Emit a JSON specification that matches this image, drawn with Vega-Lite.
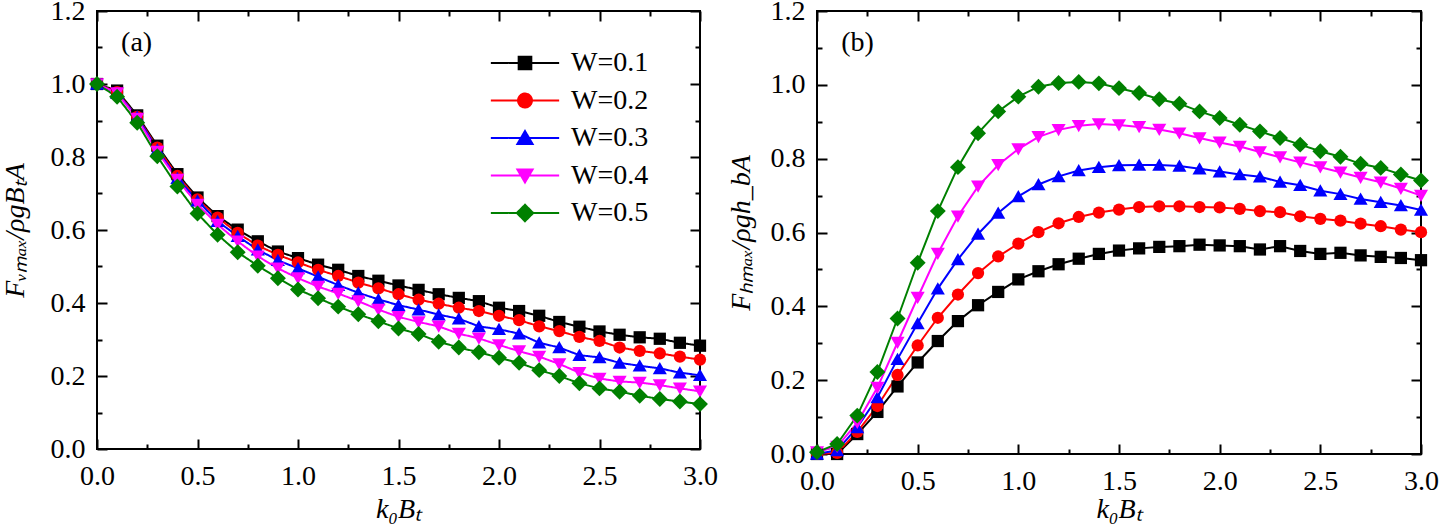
{
  "$schema": "https://vega.github.io/schema/vega-lite/v6.json",
  "background": "white",
  "padding": {"left": 0, "top": -4, "right": 0, "bottom": 0},
  "config": {
    "font": "Liberation Serif",
    "view": {"stroke": "black", "strokeWidth": 2},
    "axis": {
      "domain": false, "grid": false, "labelFlush": false, "labelOverlap": false,
      "tickColor": "black", "tickWidth": 2,
      "labelFont": "Liberation Serif", "labelFontSize": 28, "labelColor": "black",
      "titleFont": "Liberation Serif", "titleFontSize": 28, "titleFontStyle": "italic", "titleFontWeight": "normal", "titleColor": "black"
    }
  },
  "datasets": {
    "a": [
      {"k":0,"W":"W=0.1","v":1.0},{"k":0.1,"W":"W=0.1","v":0.982},{"k":0.2,"W":"W=0.1","v":0.914},{"k":0.3,"W":"W=0.1","v":0.831},{"k":0.4,"W":"W=0.1","v":0.753},{"k":0.5,"W":"W=0.1","v":0.689},{"k":0.6,"W":"W=0.1","v":0.638},{"k":0.7,"W":"W=0.1","v":0.601},{"k":0.8,"W":"W=0.1","v":0.569},{"k":0.9,"W":"W=0.1","v":0.541},{"k":1.0,"W":"W=0.1","v":0.523},{"k":1.1,"W":"W=0.1","v":0.505},{"k":1.2,"W":"W=0.1","v":0.491},{"k":1.3,"W":"W=0.1","v":0.474},{"k":1.4,"W":"W=0.1","v":0.461},{"k":1.5,"W":"W=0.1","v":0.448},{"k":1.6,"W":"W=0.1","v":0.436},{"k":1.7,"W":"W=0.1","v":0.424},{"k":1.8,"W":"W=0.1","v":0.414},{"k":1.9,"W":"W=0.1","v":0.405},{"k":2.0,"W":"W=0.1","v":0.387},{"k":2.1,"W":"W=0.1","v":0.378},{"k":2.2,"W":"W=0.1","v":0.365},{"k":2.3,"W":"W=0.1","v":0.348},{"k":2.4,"W":"W=0.1","v":0.335},{"k":2.5,"W":"W=0.1","v":0.322},{"k":2.6,"W":"W=0.1","v":0.313},{"k":2.7,"W":"W=0.1","v":0.306},{"k":2.8,"W":"W=0.1","v":0.302},{"k":2.9,"W":"W=0.1","v":0.291},{"k":3.0,"W":"W=0.1","v":0.283},
      {"k":0,"W":"W=0.2","v":1.0},{"k":0.1,"W":"W=0.2","v":0.978},{"k":0.2,"W":"W=0.2","v":0.91},{"k":0.3,"W":"W=0.2","v":0.826},{"k":0.4,"W":"W=0.2","v":0.748},{"k":0.5,"W":"W=0.2","v":0.684},{"k":0.6,"W":"W=0.2","v":0.634},{"k":0.7,"W":"W=0.2","v":0.592},{"k":0.8,"W":"W=0.2","v":0.557},{"k":0.9,"W":"W=0.2","v":0.532},{"k":1.0,"W":"W=0.2","v":0.511},{"k":1.1,"W":"W=0.2","v":0.491},{"k":1.2,"W":"W=0.2","v":0.474},{"k":1.3,"W":"W=0.2","v":0.456},{"k":1.4,"W":"W=0.2","v":0.44},{"k":1.5,"W":"W=0.2","v":0.424},{"k":1.6,"W":"W=0.2","v":0.409},{"k":1.7,"W":"W=0.2","v":0.398},{"k":1.8,"W":"W=0.2","v":0.387},{"k":1.9,"W":"W=0.2","v":0.378},{"k":2.0,"W":"W=0.2","v":0.365},{"k":2.1,"W":"W=0.2","v":0.353},{"k":2.2,"W":"W=0.2","v":0.336},{"k":2.3,"W":"W=0.2","v":0.323},{"k":2.4,"W":"W=0.2","v":0.307},{"k":2.5,"W":"W=0.2","v":0.296},{"k":2.6,"W":"W=0.2","v":0.278},{"k":2.7,"W":"W=0.2","v":0.269},{"k":2.8,"W":"W=0.2","v":0.262},{"k":2.9,"W":"W=0.2","v":0.253},{"k":3.0,"W":"W=0.2","v":0.245},
      {"k":0,"W":"W=0.3","v":1.0},{"k":0.1,"W":"W=0.3","v":0.975},{"k":0.2,"W":"W=0.3","v":0.91},{"k":0.3,"W":"W=0.3","v":0.82},{"k":0.4,"W":"W=0.3","v":0.742},{"k":0.5,"W":"W=0.3","v":0.68},{"k":0.6,"W":"W=0.3","v":0.624},{"k":0.7,"W":"W=0.3","v":0.583},{"k":0.8,"W":"W=0.3","v":0.546},{"k":0.9,"W":"W=0.3","v":0.517},{"k":1.0,"W":"W=0.3","v":0.495},{"k":1.1,"W":"W=0.3","v":0.472},{"k":1.2,"W":"W=0.3","v":0.449},{"k":1.3,"W":"W=0.3","v":0.428},{"k":1.4,"W":"W=0.3","v":0.41},{"k":1.5,"W":"W=0.3","v":0.394},{"k":1.6,"W":"W=0.3","v":0.382},{"k":1.7,"W":"W=0.3","v":0.368},{"k":1.8,"W":"W=0.3","v":0.357},{"k":1.9,"W":"W=0.3","v":0.336},{"k":2.0,"W":"W=0.3","v":0.328},{"k":2.1,"W":"W=0.3","v":0.316},{"k":2.2,"W":"W=0.3","v":0.291},{"k":2.3,"W":"W=0.3","v":0.278},{"k":2.4,"W":"W=0.3","v":0.257},{"k":2.5,"W":"W=0.3","v":0.251},{"k":2.6,"W":"W=0.3","v":0.236},{"k":2.7,"W":"W=0.3","v":0.228},{"k":2.8,"W":"W=0.3","v":0.221},{"k":2.9,"W":"W=0.3","v":0.209},{"k":3.0,"W":"W=0.3","v":0.202},
      {"k":0,"W":"W=0.4","v":1.0},{"k":0.1,"W":"W=0.4","v":0.975},{"k":0.2,"W":"W=0.4","v":0.905},{"k":0.3,"W":"W=0.4","v":0.815},{"k":0.4,"W":"W=0.4","v":0.738},{"k":0.5,"W":"W=0.4","v":0.67},{"k":0.6,"W":"W=0.4","v":0.615},{"k":0.7,"W":"W=0.4","v":0.569},{"k":0.8,"W":"W=0.4","v":0.528},{"k":0.9,"W":"W=0.4","v":0.495},{"k":1.0,"W":"W=0.4","v":0.468},{"k":1.1,"W":"W=0.4","v":0.445},{"k":1.2,"W":"W=0.4","v":0.426},{"k":1.3,"W":"W=0.4","v":0.405},{"k":1.4,"W":"W=0.4","v":0.382},{"k":1.5,"W":"W=0.4","v":0.362},{"k":1.6,"W":"W=0.4","v":0.348},{"k":1.7,"W":"W=0.4","v":0.336},{"k":1.8,"W":"W=0.4","v":0.316},{"k":1.9,"W":"W=0.4","v":0.303},{"k":2.0,"W":"W=0.4","v":0.285},{"k":2.1,"W":"W=0.4","v":0.268},{"k":2.2,"W":"W=0.4","v":0.253},{"k":2.3,"W":"W=0.4","v":0.233},{"k":2.4,"W":"W=0.4","v":0.209},{"k":2.5,"W":"W=0.4","v":0.193},{"k":2.6,"W":"W=0.4","v":0.185},{"k":2.7,"W":"W=0.4","v":0.182},{"k":2.8,"W":"W=0.4","v":0.175},{"k":2.9,"W":"W=0.4","v":0.166},{"k":3.0,"W":"W=0.4","v":0.158},
      {"k":0,"W":"W=0.5","v":1.0},{"k":0.1,"W":"W=0.5","v":0.965},{"k":0.2,"W":"W=0.5","v":0.894},{"k":0.3,"W":"W=0.5","v":0.802},{"k":0.4,"W":"W=0.5","v":0.719},{"k":0.5,"W":"W=0.5","v":0.645},{"k":0.6,"W":"W=0.5","v":0.587},{"k":0.7,"W":"W=0.5","v":0.539},{"k":0.8,"W":"W=0.5","v":0.502},{"k":0.9,"W":"W=0.5","v":0.468},{"k":1.0,"W":"W=0.5","v":0.437},{"k":1.1,"W":"W=0.5","v":0.413},{"k":1.2,"W":"W=0.5","v":0.39},{"k":1.3,"W":"W=0.5","v":0.369},{"k":1.4,"W":"W=0.5","v":0.35},{"k":1.5,"W":"W=0.5","v":0.33},{"k":1.6,"W":"W=0.5","v":0.315},{"k":1.7,"W":"W=0.5","v":0.294},{"k":1.8,"W":"W=0.5","v":0.278},{"k":1.9,"W":"W=0.5","v":0.265},{"k":2.0,"W":"W=0.5","v":0.25},{"k":2.1,"W":"W=0.5","v":0.236},{"k":2.2,"W":"W=0.5","v":0.216},{"k":2.3,"W":"W=0.5","v":0.2},{"k":2.4,"W":"W=0.5","v":0.18},{"k":2.5,"W":"W=0.5","v":0.166},{"k":2.6,"W":"W=0.5","v":0.157},{"k":2.7,"W":"W=0.5","v":0.146},{"k":2.8,"W":"W=0.5","v":0.137},{"k":2.9,"W":"W=0.5","v":0.13},{"k":3.0,"W":"W=0.5","v":0.123}
    ],
    "b": [
      {"k":0,"W":"W=0.1","v":0},{"k":0.1,"W":"W=0.1","v":0},{"k":0.2,"W":"W=0.1","v":0.054},{"k":0.3,"W":"W=0.1","v":0.114},{"k":0.4,"W":"W=0.1","v":0.183},{"k":0.5,"W":"W=0.1","v":0.248},{"k":0.6,"W":"W=0.1","v":0.306},{"k":0.7,"W":"W=0.1","v":0.36},{"k":0.8,"W":"W=0.1","v":0.403},{"k":0.9,"W":"W=0.1","v":0.439},{"k":1.0,"W":"W=0.1","v":0.473},{"k":1.1,"W":"W=0.1","v":0.495},{"k":1.2,"W":"W=0.1","v":0.514},{"k":1.3,"W":"W=0.1","v":0.529},{"k":1.4,"W":"W=0.1","v":0.542},{"k":1.5,"W":"W=0.1","v":0.551},{"k":1.6,"W":"W=0.1","v":0.557},{"k":1.7,"W":"W=0.1","v":0.561},{"k":1.8,"W":"W=0.1","v":0.563},{"k":1.9,"W":"W=0.1","v":0.567},{"k":2.0,"W":"W=0.1","v":0.565},{"k":2.1,"W":"W=0.1","v":0.563},{"k":2.2,"W":"W=0.1","v":0.554},{"k":2.3,"W":"W=0.1","v":0.563},{"k":2.4,"W":"W=0.1","v":0.55},{"k":2.5,"W":"W=0.1","v":0.542},{"k":2.6,"W":"W=0.1","v":0.545},{"k":2.7,"W":"W=0.1","v":0.538},{"k":2.8,"W":"W=0.1","v":0.534},{"k":2.9,"W":"W=0.1","v":0.531},{"k":3.0,"W":"W=0.1","v":0.525},
      {"k":0,"W":"W=0.2","v":0},{"k":0.1,"W":"W=0.2","v":0.003},{"k":0.2,"W":"W=0.2","v":0.06},{"k":0.3,"W":"W=0.2","v":0.13},{"k":0.4,"W":"W=0.2","v":0.214},{"k":0.5,"W":"W=0.2","v":0.294},{"k":0.6,"W":"W=0.2","v":0.369},{"k":0.7,"W":"W=0.2","v":0.432},{"k":0.8,"W":"W=0.2","v":0.49},{"k":0.9,"W":"W=0.2","v":0.535},{"k":1.0,"W":"W=0.2","v":0.57},{"k":1.1,"W":"W=0.2","v":0.601},{"k":1.2,"W":"W=0.2","v":0.625},{"k":1.3,"W":"W=0.2","v":0.642},{"k":1.4,"W":"W=0.2","v":0.654},{"k":1.5,"W":"W=0.2","v":0.662},{"k":1.6,"W":"W=0.2","v":0.669},{"k":1.7,"W":"W=0.2","v":0.671},{"k":1.8,"W":"W=0.2","v":0.671},{"k":1.9,"W":"W=0.2","v":0.669},{"k":2.0,"W":"W=0.2","v":0.668},{"k":2.1,"W":"W=0.2","v":0.664},{"k":2.2,"W":"W=0.2","v":0.658},{"k":2.3,"W":"W=0.2","v":0.655},{"k":2.4,"W":"W=0.2","v":0.644},{"k":2.5,"W":"W=0.2","v":0.637},{"k":2.6,"W":"W=0.2","v":0.632},{"k":2.7,"W":"W=0.2","v":0.624},{"k":2.8,"W":"W=0.2","v":0.617},{"k":2.9,"W":"W=0.2","v":0.608},{"k":3.0,"W":"W=0.2","v":0.601},
      {"k":0,"W":"W=0.3","v":0},{"k":0.1,"W":"W=0.3","v":0.01},{"k":0.2,"W":"W=0.3","v":0.072},{"k":0.3,"W":"W=0.3","v":0.153},{"k":0.4,"W":"W=0.3","v":0.257},{"k":0.5,"W":"W=0.3","v":0.354},{"k":0.6,"W":"W=0.3","v":0.448},{"k":0.7,"W":"W=0.3","v":0.527},{"k":0.8,"W":"W=0.3","v":0.596},{"k":0.9,"W":"W=0.3","v":0.653},{"k":1.0,"W":"W=0.3","v":0.698},{"k":1.1,"W":"W=0.3","v":0.73},{"k":1.2,"W":"W=0.3","v":0.752},{"k":1.3,"W":"W=0.3","v":0.768},{"k":1.4,"W":"W=0.3","v":0.777},{"k":1.5,"W":"W=0.3","v":0.782},{"k":1.6,"W":"W=0.3","v":0.783},{"k":1.7,"W":"W=0.3","v":0.783},{"k":1.8,"W":"W=0.3","v":0.78},{"k":1.9,"W":"W=0.3","v":0.773},{"k":2.0,"W":"W=0.3","v":0.765},{"k":2.1,"W":"W=0.3","v":0.757},{"k":2.2,"W":"W=0.3","v":0.751},{"k":2.3,"W":"W=0.3","v":0.737},{"k":2.4,"W":"W=0.3","v":0.728},{"k":2.5,"W":"W=0.3","v":0.713},{"k":2.6,"W":"W=0.3","v":0.704},{"k":2.7,"W":"W=0.3","v":0.691},{"k":2.8,"W":"W=0.3","v":0.682},{"k":2.9,"W":"W=0.3","v":0.673},{"k":3.0,"W":"W=0.3","v":0.661},
      {"k":0,"W":"W=0.4","v":0.005},{"k":0.1,"W":"W=0.4","v":0.02},{"k":0.2,"W":"W=0.4","v":0.085},{"k":0.3,"W":"W=0.4","v":0.18},{"k":0.4,"W":"W=0.4","v":0.302},{"k":0.5,"W":"W=0.4","v":0.424},{"k":0.6,"W":"W=0.4","v":0.543},{"k":0.7,"W":"W=0.4","v":0.644},{"k":0.8,"W":"W=0.4","v":0.725},{"k":0.9,"W":"W=0.4","v":0.783},{"k":1.0,"W":"W=0.4","v":0.826},{"k":1.1,"W":"W=0.4","v":0.859},{"k":1.2,"W":"W=0.4","v":0.878},{"k":1.3,"W":"W=0.4","v":0.889},{"k":1.4,"W":"W=0.4","v":0.894},{"k":1.5,"W":"W=0.4","v":0.891},{"k":1.6,"W":"W=0.4","v":0.886},{"k":1.7,"W":"W=0.4","v":0.879},{"k":1.8,"W":"W=0.4","v":0.869},{"k":1.9,"W":"W=0.4","v":0.856},{"k":2.0,"W":"W=0.4","v":0.844},{"k":2.1,"W":"W=0.4","v":0.833},{"k":2.2,"W":"W=0.4","v":0.818},{"k":2.3,"W":"W=0.4","v":0.804},{"k":2.4,"W":"W=0.4","v":0.79},{"k":2.5,"W":"W=0.4","v":0.777},{"k":2.6,"W":"W=0.4","v":0.763},{"k":2.7,"W":"W=0.4","v":0.749},{"k":2.8,"W":"W=0.4","v":0.736},{"k":2.9,"W":"W=0.4","v":0.719},{"k":3.0,"W":"W=0.4","v":0.7},
      {"k":0,"W":"W=0.5","v":0.005},{"k":0.1,"W":"W=0.5","v":0.027},{"k":0.2,"W":"W=0.5","v":0.104},{"k":0.3,"W":"W=0.5","v":0.222},{"k":0.4,"W":"W=0.5","v":0.367},{"k":0.5,"W":"W=0.5","v":0.518},{"k":0.6,"W":"W=0.5","v":0.658},{"k":0.7,"W":"W=0.5","v":0.777},{"k":0.8,"W":"W=0.5","v":0.869},{"k":0.9,"W":"W=0.5","v":0.928},{"k":1.0,"W":"W=0.5","v":0.968},{"k":1.1,"W":"W=0.5","v":0.995},{"k":1.2,"W":"W=0.5","v":1.005},{"k":1.3,"W":"W=0.5","v":1.008},{"k":1.4,"W":"W=0.5","v":1.004},{"k":1.5,"W":"W=0.5","v":0.991},{"k":1.6,"W":"W=0.5","v":0.978},{"k":1.7,"W":"W=0.5","v":0.961},{"k":1.8,"W":"W=0.5","v":0.949},{"k":1.9,"W":"W=0.5","v":0.928},{"k":2.0,"W":"W=0.5","v":0.91},{"k":2.1,"W":"W=0.5","v":0.892},{"k":2.2,"W":"W=0.5","v":0.874},{"k":2.3,"W":"W=0.5","v":0.856},{"k":2.4,"W":"W=0.5","v":0.838},{"k":2.5,"W":"W=0.5","v":0.82},{"k":2.6,"W":"W=0.5","v":0.805},{"k":2.7,"W":"W=0.5","v":0.786},{"k":2.8,"W":"W=0.5","v":0.775},{"k":2.9,"W":"W=0.5","v":0.757},{"k":3.0,"W":"W=0.5","v":0.741}
    ]
  },
  "resolve": {
    "scale": {"x": "independent", "y": "independent", "color": "independent", "shape": "independent", "strokeDash": "independent"},
    "legend": {"color": "independent", "shape": "independent", "strokeDash": "independent"}
  },
  "spacing": 117,
  "bounds": "flush",
  "hconcat": [
    {
      "width": 603, "height": 438,
      "data": {"name": "a"},
      "resolve": {"axis": {"x": "independent", "y": "independent"}},
      "layer": [
        {
          "mark": {"type": "line", "strokeWidth": 2},
          "encoding": {
            "x": {"field": "k", "type": "quantitative", "scale": {"domain": [0, 3], "nice": false},
              "axis": {"orient": "bottom", "values": [0,0.25,0.5,0.75,1,1.25,1.5,1.75,2,2.25,2.5,2.75,3],
                "labelExpr": "datum.value % 0.5 === 0 ? format(datum.value, '.1f') : ''",
                "tickSize": {"condition": {"test": "datum.value % 0.5 === 0", "value": -10}, "value": -5},
                "labelPadding": 23, "title": "k₀Bₜ", "titlePadding": 0}},
            "y": {"field": "v", "type": "quantitative", "scale": {"domain": [0, 1.2], "nice": false},
              "axis": {"orient": "left", "values": [0,0.1,0.2,0.3,0.4,0.5,0.6,0.7,0.8,0.9,1.0,1.1,1.2],
                "labelExpr": "round(datum.value*10) % 2 === 0 ? format(datum.value, '.1f') : ''",
                "tickSize": {"condition": {"test": "round(datum.value*10) % 2 === 0", "value": -10}, "value": -5},
                "labelPadding": 22, "title": "Fᵥₘₐₓ/ρgBₜA", "titlePadding": 21}},
            "color": {"field": "W", "type": "nominal",
              "scale": {"domain": ["W=0.5","W=0.4","W=0.3","W=0.2","W=0.1"], "range": ["#008000","#ff00ff","#0000ff","#ff0000","#000000"]},
              "legend": null},
            "strokeDash": {"field": "W", "type": "nominal",
              "scale": {"domain": ["W=0.1","W=0.2","W=0.3","W=0.4","W=0.5"], "range": [[1,0],[1,0],[1,0],[1,0],[1,0]]},
              "legend": {
                "orient": "none", "legendX": 414, "legendY": 38, "title": null, "padding": 0,
                "labelFont": "Liberation Serif", "labelFontSize": 28, "labelColor": "black",
                "labelOffset": 32, "rowPadding": 9.5,
                "encode": {"symbols": {"update": {
                  "shape": {"signal": "datum.value === 'W=0.1' ? 'M-5.4,0H5.4M-1,-1H1V1H-1Z' : datum.value === 'W=0.2' ? 'M-5.4,0H5.4M-1.1,0A1.1,1.1,0,1,1,1.1,0A1.1,1.1,0,1,1,-1.1,0Z' : datum.value === 'W=0.3' ? 'M-5.4,0H5.4M0,-1.1L1.2,0.95L-1.2,0.95Z' : datum.value === 'W=0.4' ? 'M-5.4,0H5.4M0,1.1L1.2,-0.95L-1.2,-0.95Z' : 'M-5.4,0H5.4M0,-1.3L1.3,0L0,1.3L-1.3,0Z'"},
                  "size": {"value": 160},
                  "strokeWidth": {"value": 2},
                  "opacity": {"value": 1},
                  "stroke": {"signal": "datum.value === 'W=0.1' ? '#000000' : datum.value === 'W=0.2' ? '#ff0000' : datum.value === 'W=0.3' ? '#0000ff' : datum.value === 'W=0.4' ? '#ff00ff' : '#008000'"},
                  "fill": {"signal": "datum.value === 'W=0.1' ? '#000000' : datum.value === 'W=0.2' ? '#ff0000' : datum.value === 'W=0.3' ? '#0000ff' : datum.value === 'W=0.4' ? '#ff00ff' : '#008000'"}
                }}}
              }}
          }
        },
        {
          "mark": {"type": "point", "filled": true, "opacity": 1, "size": 150},
          "encoding": {
            "x": {"field": "k", "type": "quantitative", "scale": {"domain": [0, 3], "nice": false},
              "axis": {"orient": "top", "values": [0,0.25,0.5,0.75,1,1.25,1.5,1.75,2,2.25,2.5,2.75,3], "labels": false,
                "tickSize": {"condition": {"test": "datum.value % 0.5 === 0", "value": -10}, "value": -5}, "title": null}},
            "y": {"field": "v", "type": "quantitative", "scale": {"domain": [0, 1.2], "nice": false},
              "axis": {"orient": "right", "values": [0,0.1,0.2,0.3,0.4,0.5,0.6,0.7,0.8,0.9,1.0,1.1,1.2], "labels": false,
                "tickSize": {"condition": {"test": "round(datum.value*10) % 2 === 0", "value": -10}, "value": -5}, "title": null}},
            "color": {"field": "W", "type": "nominal",
              "scale": {"domain": ["W=0.5","W=0.4","W=0.3","W=0.2","W=0.1"], "range": ["#008000","#ff00ff","#0000ff","#ff0000","#000000"]},
              "legend": null},
            "shape": {"field": "W", "type": "nominal",
              "scale": {"domain": ["W=0.5","W=0.4","W=0.3","W=0.2","W=0.1"], "range": ["M0,-1.3L1.3,0L0,1.3L-1.3,0Z","M0,1.05L1.15,-0.95L-1.15,-0.95Z","M0,-1.05L1.15,0.95L-1.15,0.95Z","circle","square"]},
              "legend": null}
          }
        },
        {
          "data": {"values": [{"label": "(a)"}]},
          "mark": {"type": "text", "align": "left", "baseline": "middle", "fontSize": 28, "font": "Liberation Serif", "color": "black"},
          "encoding": {
            "x": {"datum": 0.12, "type": "quantitative", "axis": null},
            "y": {"datum": 1.111, "type": "quantitative", "axis": null},
            "text": {"field": "label"}
          }
        }
      ]
    },
    {
      "width": 604, "height": 443,
      "data": {"name": "b"},
      "resolve": {"axis": {"x": "independent", "y": "independent"}},
      "layer": [
        {
          "mark": {"type": "line", "strokeWidth": 2},
          "encoding": {
            "x": {"field": "k", "type": "quantitative", "scale": {"domain": [0, 3], "nice": false},
              "axis": {"orient": "bottom", "values": [0,0.25,0.5,0.75,1,1.25,1.5,1.75,2,2.25,2.5,2.75,3],
                "labelExpr": "datum.value % 0.5 === 0 ? format(datum.value, '.1f') : ''",
                "tickSize": {"condition": {"test": "datum.value % 0.5 === 0", "value": -10}, "value": -5},
                "labelPadding": 23, "title": "k₀Bₜ", "titlePadding": -5}},
            "y": {"field": "v", "type": "quantitative", "scale": {"domain": [0, 1.2], "nice": false},
              "axis": {"orient": "left", "values": [0,0.1,0.2,0.3,0.4,0.5,0.6,0.7,0.8,0.9,1.0,1.1,1.2],
                "labelExpr": "round(datum.value*10) % 2 === 0 ? format(datum.value, '.1f') : ''",
                "tickSize": {"condition": {"test": "round(datum.value*10) % 2 === 0", "value": -10}, "value": -5},
                "labelPadding": 22, "title": "Fₕₘₐₓ/ρgh_bA", "titlePadding": 15}},
            "color": {"field": "W", "type": "nominal",
              "scale": {"domain": ["W=0.1","W=0.2","W=0.3","W=0.4","W=0.5"], "range": ["#000000","#ff0000","#0000ff","#ff00ff","#008000"]},
              "legend": null}
          }
        },
        {
          "mark": {"type": "point", "filled": true, "opacity": 1, "size": 150},
          "encoding": {
            "x": {"field": "k", "type": "quantitative", "scale": {"domain": [0, 3], "nice": false},
              "axis": {"orient": "top", "values": [0,0.25,0.5,0.75,1,1.25,1.5,1.75,2,2.25,2.5,2.75,3], "labels": false,
                "tickSize": {"condition": {"test": "datum.value % 0.5 === 0", "value": -10}, "value": -5}, "title": null}},
            "y": {"field": "v", "type": "quantitative", "scale": {"domain": [0, 1.2], "nice": false},
              "axis": {"orient": "right", "values": [0,0.1,0.2,0.3,0.4,0.5,0.6,0.7,0.8,0.9,1.0,1.1,1.2], "labels": false,
                "tickSize": {"condition": {"test": "round(datum.value*10) % 2 === 0", "value": -10}, "value": -5}, "title": null}},
            "color": {"field": "W", "type": "nominal",
              "scale": {"domain": ["W=0.1","W=0.2","W=0.3","W=0.4","W=0.5"], "range": ["#000000","#ff0000","#0000ff","#ff00ff","#008000"]},
              "legend": null},
            "shape": {"field": "W", "type": "nominal",
              "scale": {"domain": ["W=0.1","W=0.2","W=0.3","W=0.4","W=0.5"], "range": ["square","circle","M0,-1.05L1.15,0.95L-1.15,0.95Z","M0,1.05L1.15,-0.95L-1.15,-0.95Z","M0,-1.3L1.3,0L0,1.3L-1.3,0Z"]},
              "legend": null}
          }
        },
        {
          "data": {"values": [{"label": "(b)"}]},
          "mark": {"type": "text", "align": "left", "baseline": "middle", "fontSize": 28, "font": "Liberation Serif", "color": "black"},
          "encoding": {
            "x": {"datum": 0.12, "type": "quantitative", "axis": null},
            "y": {"datum": 1.114, "type": "quantitative", "axis": null},
            "text": {"field": "label"}
          }
        }
      ]
    }
  ]
}
